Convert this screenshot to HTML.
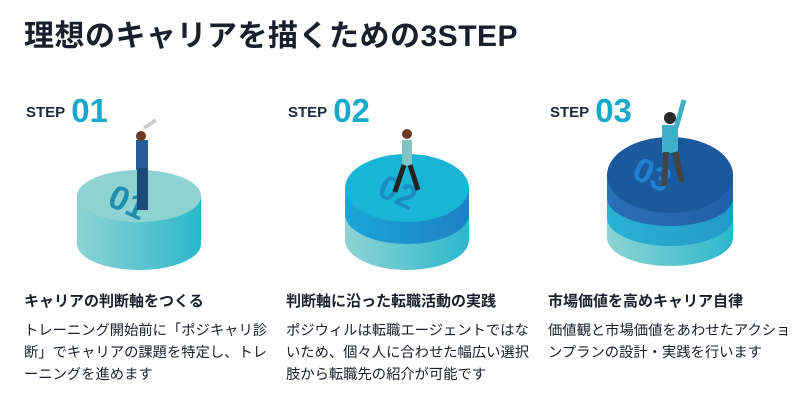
<!DOCTYPE html>
<html><head><meta charset="utf-8"><style>
body{margin:0;width:800px;height:402px;background:#fff;font-family:"Liberation Sans","Noto Sans CJK JP",sans-serif;color:#1a1f2b;position:relative;overflow:hidden}
.t{position:absolute;left:24px;top:11px;font-size:30px;font-weight:bold;letter-spacing:0.5px}
.h{position:absolute;top:290px;font-size:15px;font-weight:bold}
.b{position:absolute;top:320px;font-size:14.3px;line-height:22px;width:250px}
.st{position:absolute;top:92px;font-weight:bold;color:#1e2a3a;font-size:15px}
.st span{color:#17a9c9;font-size:33px;margin-left:6px;vertical-align:-5px}
</style></head><body>
<div class="t">理想のキャリアを描くための3STEP</div>
<div class="st" style="left:26px">STEP<span>01</span></div>
<div class="st" style="left:288px">STEP<span>02</span></div>
<div class="st" style="left:550px">STEP<span>03</span></div>
<svg width="800" height="402" style="position:absolute;left:0;top:0">
<defs>
<linearGradient id="g1" x1="0" x2="1"><stop offset="0" stop-color="#8fd3d3"/><stop offset="1" stop-color="#2cb8cc"/></linearGradient>
<linearGradient id="g2" x1="0" x2="1"><stop offset="0" stop-color="#1aa7d6"/><stop offset="1" stop-color="#1f7fc6"/></linearGradient>
<linearGradient id="g3" x1="0" x2="1"><stop offset="0" stop-color="#2b6fb8"/><stop offset="1" stop-color="#1f5fa6"/></linearGradient>
<linearGradient id="g4" x1="0" x2="1"><stop offset="0" stop-color="#2ab2d4"/><stop offset="1" stop-color="#2499c8"/></linearGradient>
</defs>
<path d="M77 196 V244 A62 26 0 0 0 201 244 V196 Z" fill="url(#g1)"/>
<ellipse cx="139" cy="196" rx="62" ry="26" fill="#8ed2d2"/>
<text x="108" y="215" font-size="34" font-weight="bold" fill="#1f8fb0" transform="rotate(25 130 205)" font-family="Liberation Sans">01</text>
<rect x="136" y="140" width="12" height="30" fill="#245d9a"/>
<rect x="137" y="168" width="11" height="42" fill="#1e4a7a"/>
<circle cx="141" cy="136" r="5" fill="#6a3a25"/>
<rect x="143" y="122" width="14" height="4" fill="#ccc" transform="rotate(-35 150 124)"/>
<path d="M345 188 V240 A62 30 0 0 0 469 240 V188 Z" fill="url(#g1)"/>
<path d="M345 188 V214 A62 30 0 0 0 469 214 V188 Z" fill="url(#g2)"/>
<ellipse cx="407" cy="188" rx="62" ry="34" fill="#19b5d6"/>
<text x="378" y="205" font-size="34" font-weight="bold" fill="#1a8cc0" transform="rotate(25 400 195)" font-family="Liberation Sans">02</text>
<rect x="402" y="140" width="10" height="26" fill="#7fc4c0"/>
<path d="M404 165 L395 192 M410 165 L418 190" stroke="#222" stroke-width="5"/>
<circle cx="407" cy="134" r="5" fill="#6a3a25"/>
<path d="M607 175 V238 A63 28 0 0 0 733 238 V175 Z" fill="url(#g1)"/>
<path d="M607 175 V218 A63 28 0 0 0 733 218 V175 Z" fill="url(#g4)"/>
<path d="M607 175 V198 A63 28 0 0 0 733 198 V175 Z" fill="url(#g3)"/>
<ellipse cx="670" cy="175" rx="63" ry="38" fill="#1a5a9c"/>
<text x="632" y="190" font-size="34" font-weight="bold" fill="#1f7fd0" transform="rotate(25 660 180)" font-family="Liberation Sans">03</text>
<rect x="662" y="125" width="16" height="28" fill="#3fb0c8"/>
<path d="M666 152 L664 186 M675 152 L682 182" stroke="#444" stroke-width="6"/>
<path d="M676 128 L684 100" stroke="#3fb0c8" stroke-width="5"/>
<circle cx="670" cy="118" r="6" fill="#2a2a2a"/>
</svg>
<div class="h" style="left:24px">キャリアの判断軸をつくる</div>
<div class="b" style="left:24px">トレーニング開始前に「ポジキャリ診断」でキャリアの課題を特定し、トレーニングを進めます</div>
<div class="h" style="left:286px">判断軸に沿った転職活動の実践</div>
<div class="b" style="left:286px">ポジウィルは転職エージェントではないため、個々人に合わせた幅広い選択肢から転職先の紹介が可能です</div>
<div class="h" style="left:548px">市場価値を高めキャリア自律</div>
<div class="b" style="left:548px">価値観と市場価値をあわせたアクションプランの設計・実践を行います</div>
</body></html>
